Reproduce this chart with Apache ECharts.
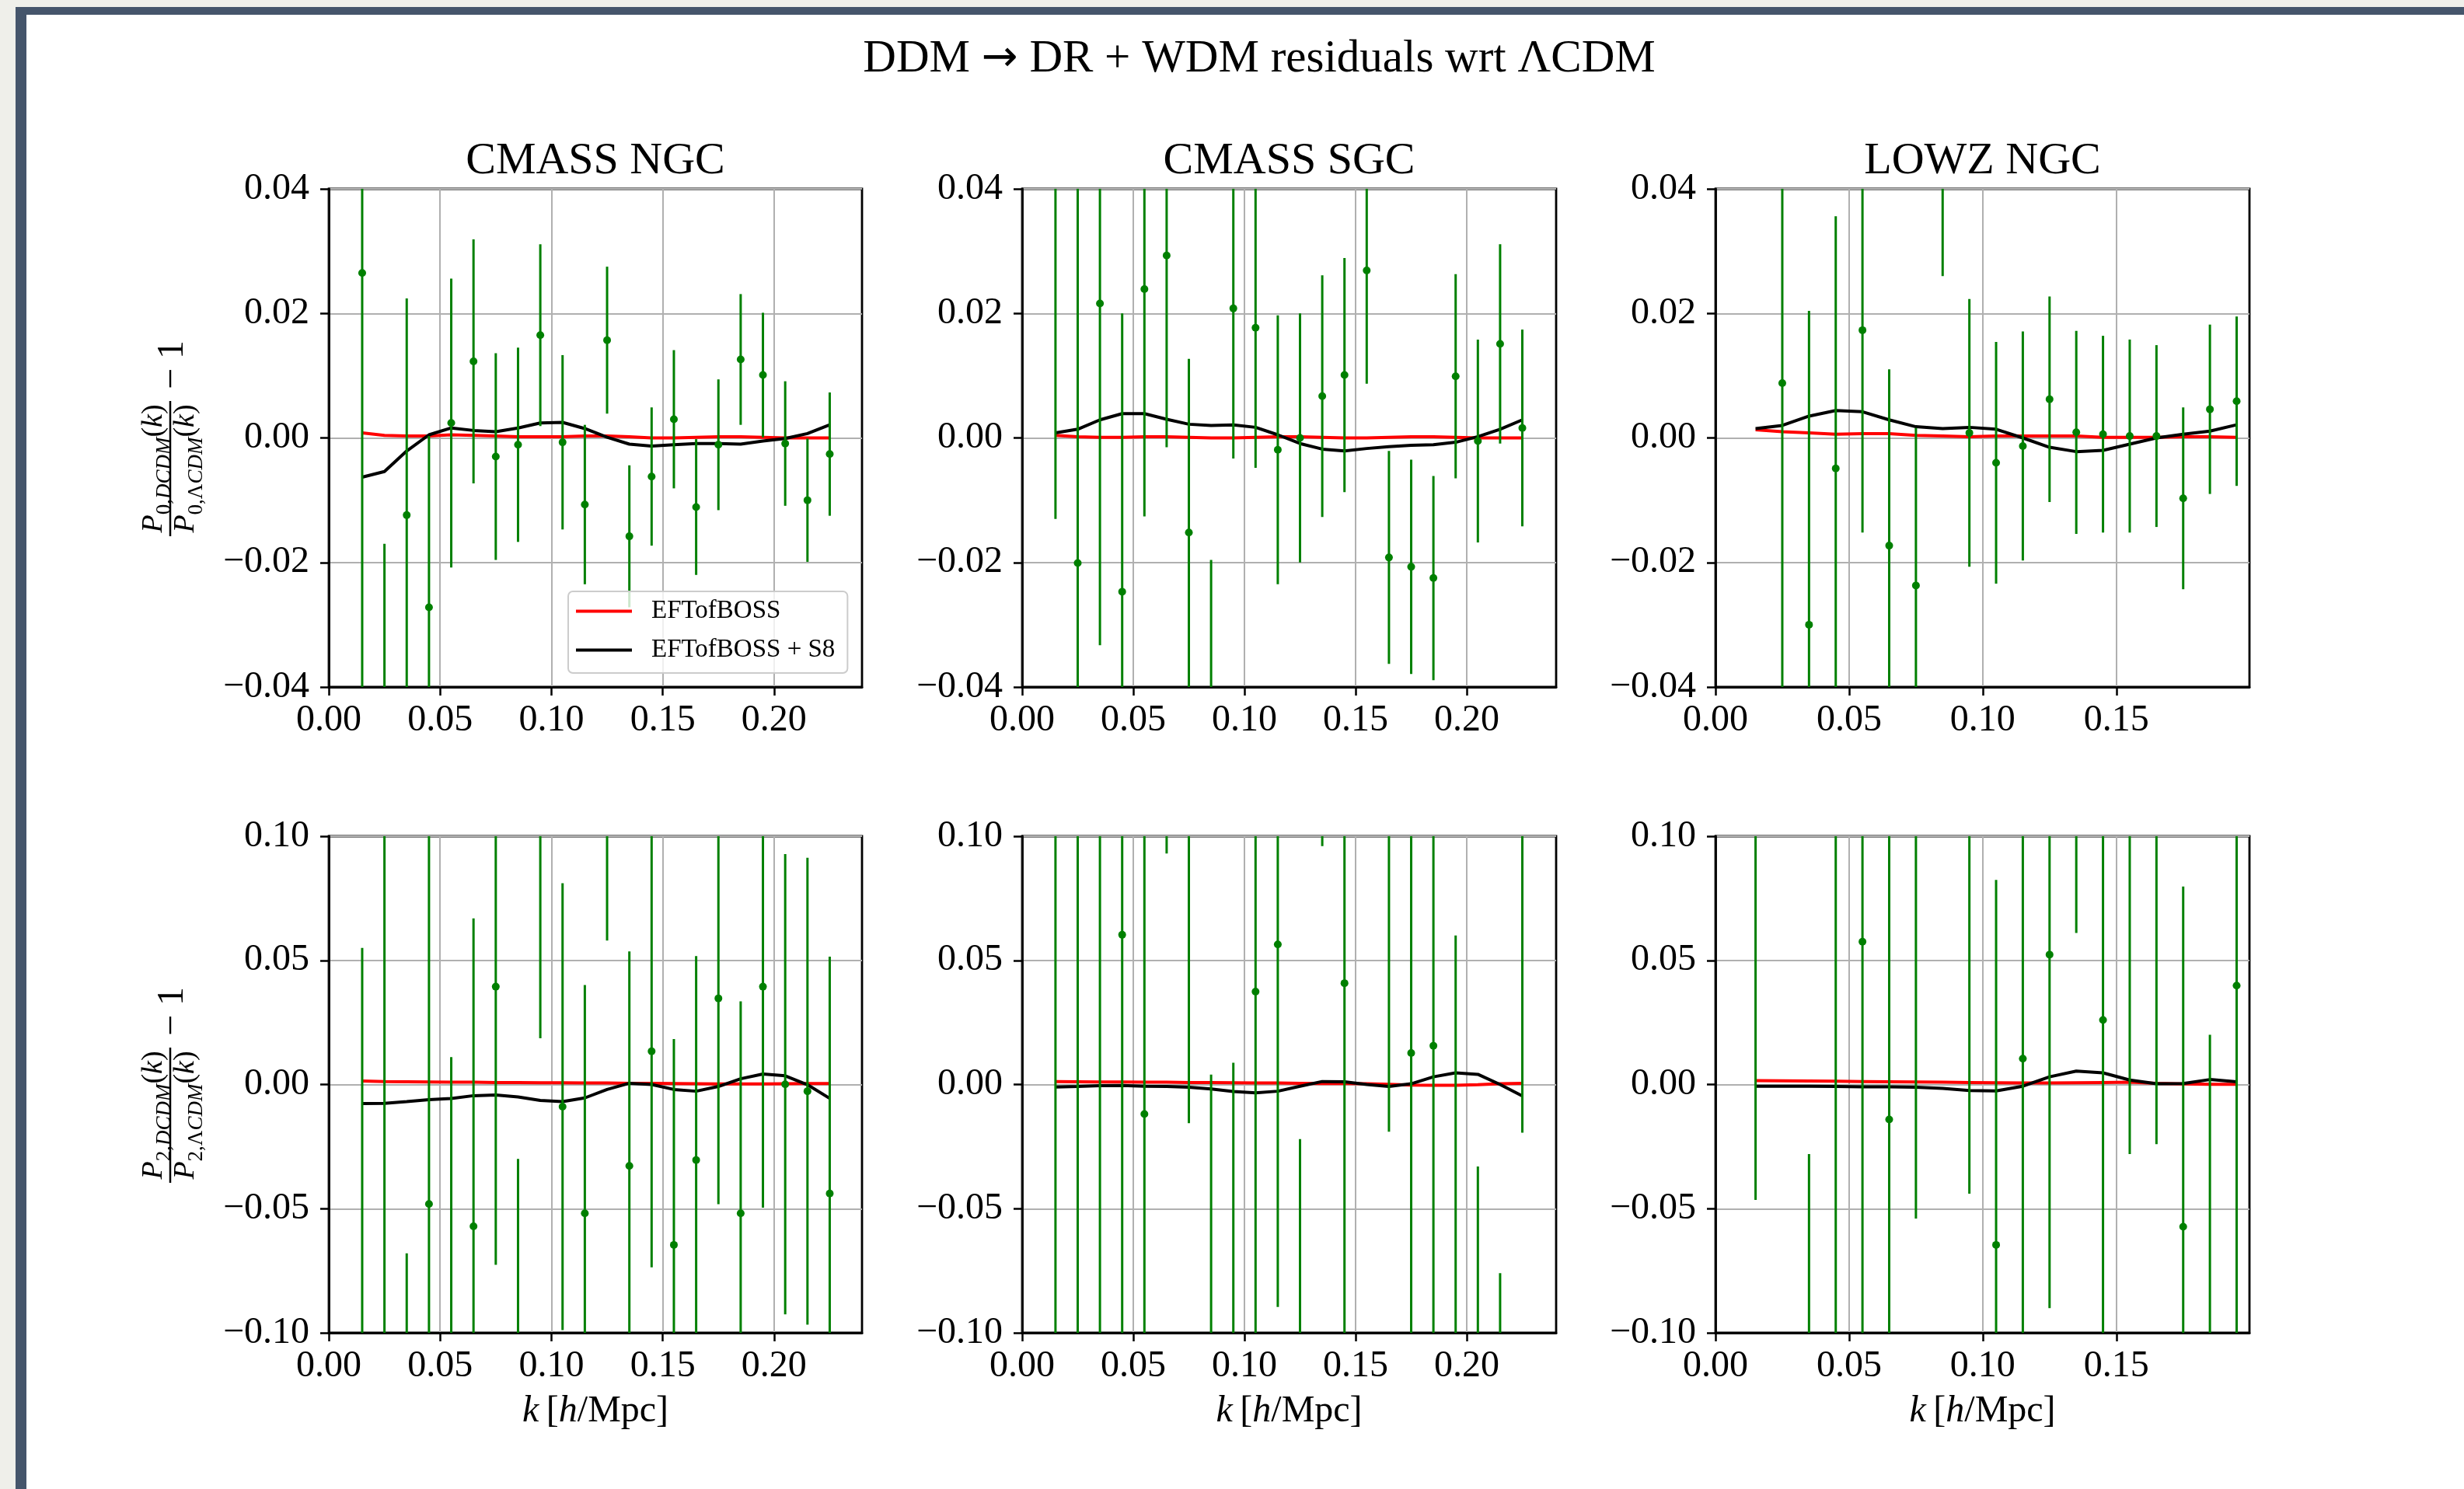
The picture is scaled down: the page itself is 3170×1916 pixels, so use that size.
<!DOCTYPE html>
<html>
<head>
<meta charset="utf-8">
<script src="https://cdn.jsdelivr.net/npm/echarts@6/dist/echarts.min.js"></script>
<style>
  html, body { margin: 0; padding: 0; background: #ffffff; }
  #chart { width: 3170px; height: 1916px; }
</style>
</head>
<body>
<div id="chart"></div>
<script>
// ---------- data ----------
// wavenumber bins [h/Mpc]
const kCmass = [0.015, 0.025, 0.035, 0.045, 0.055, 0.065, 0.075, 0.085, 0.095, 0.105, 0.115,
                0.125, 0.135, 0.145, 0.155, 0.165, 0.175, 0.185, 0.195, 0.205, 0.215, 0.225];
const kLowz  = [0.015, 0.025, 0.035, 0.045, 0.055, 0.065, 0.075, 0.085, 0.095, 0.105,
                0.115, 0.125, 0.135, 0.145, 0.155, 0.165, 0.175, 0.185, 0.195];

// monopole residuals, CMASS NGC
const cmassNgcP0     = [0.0265, -0.065, -0.0124, -0.0272, 0.0024, 0.0123, -0.0030, -0.0011, 0.0165, -0.0007, -0.0107,
                        0.0157, -0.0158, -0.0062, 0.0030, -0.0111, -0.0011, 0.0126, 0.0101, -0.0009, -0.0100, -0.0026];
const cmassNgcP0Err  = [0.075, 0.048, 0.0348, 0.0275, 0.0232, 0.0196, 0.0166, 0.0156, 0.0146, 0.0140, 0.0128,
                        0.0118, 0.0114, 0.0111, 0.0111, 0.0109, 0.0105, 0.0105, 0.0100, 0.0100, 0.0099, 0.0099];
const cmassNgcP0Fit   = [0.0008, 0.0004, 0.0003, 0.0003, 0.0005, 0.0004, 0.0003, 0.0002, 0.0002, 0.0002, 0.0003,
                         0.0003, 0.0002, 0.0000, 0.0000, 0.0001, 0.0002, 0.0002, 0.0001, 0.0000, 0.0000, 0.0000];
const cmassNgcP0FitS8 = [-0.0063, -0.0054, -0.0021, 0.0005, 0.0016, 0.0012, 0.0010, 0.0016, 0.0024, 0.0025, 0.0015,
                         0.0001, -0.0010, -0.0013, -0.0011, -0.0009, -0.0009, -0.0010, -0.0005, -0.0001, 0.0007, 0.0021];

// monopole residuals, CMASS SGC
const cmassSgcP0     = [0.045, -0.0201, 0.0216, -0.0247, 0.0239, 0.0293, -0.0152, -0.045, 0.0208, 0.0177, -0.0019,
                        0.0000, 0.0067, 0.0101, 0.0269, -0.0192, -0.0207, -0.0225, 0.0099, -0.0005, 0.0151, 0.0016];
const cmassSgcP0Err  = [0.058, 0.065, 0.0549, 0.0447, 0.0365, 0.0308, 0.0279, 0.0254, 0.0241, 0.0225, 0.0216,
                        0.0200, 0.0194, 0.0188, 0.0182, 0.0171, 0.0172, 0.0164, 0.0164, 0.0163, 0.0160, 0.0158];
const cmassSgcP0Fit   = [0.0004, 0.0002, 0.0001, 0.0001, 0.0002, 0.0002, 0.0001, 0.0000, 0.0000, 0.0001, 0.0002,
                         0.0002, 0.0001, 0.0000, 0.0000, 0.0001, 0.0002, 0.0002, 0.0001, 0.0000, 0.0000, 0.0000];
const cmassSgcP0FitS8 = [0.0008, 0.0014, 0.0029, 0.0039, 0.0039, 0.0030, 0.0022, 0.0020, 0.0021, 0.0017, 0.0005,
                         -0.0009, -0.0018, -0.0021, -0.0017, -0.0014, -0.0012, -0.0011, -0.0007, 0.0002, 0.0014, 0.0029];

// monopole residuals, LOWZ NGC
const lowzNgcP0     = [null, 0.0088, -0.0300, -0.0049, 0.0173, -0.0173, -0.0237, 0.0495, 0.0008, -0.0040,
                       -0.0013, 0.0062, 0.0009, 0.0006, 0.0003, 0.0003, -0.0097, 0.0046, 0.0059];
const lowzNgcP0Err  = [null, 0.052, 0.0504, 0.0405, 0.0325, 0.0283, 0.0253, 0.0235, 0.0215, 0.0194,
                       0.0184, 0.0165, 0.0163, 0.0158, 0.0155, 0.0146, 0.0146, 0.0136, 0.0136];
const lowzNgcP0Fit   = [0.0013, 0.0010, 0.0008, 0.0006, 0.0007, 0.0007, 0.0004, 0.0003, 0.0002, 0.0003,
                        0.0003, 0.0003, 0.0003, 0.0001, 0.0001, 0.0001, 0.0002, 0.0002, 0.0001];
const lowzNgcP0FitS8 = [0.0015, 0.0020, 0.0035, 0.0044, 0.0042, 0.0029, 0.0018, 0.0015, 0.0017, 0.0014,
                        0.0000, -0.0015, -0.0022, -0.0020, -0.0010, 0.0000, 0.0006, 0.0011, 0.0021];

// quadrupole residuals, CMASS NGC
const cmassNgcP2     = [-0.105, 0.12, -0.13, -0.0481, -0.12, -0.0571, 0.0394, -0.135, 0.115, -0.0089, -0.0519,
                        0.14, -0.0328, 0.0134, -0.0646, -0.0304, 0.0347, -0.0519, 0.0394, 0.0001, -0.0027, -0.0439];
const cmassNgcP2Err  = [0.16, 0.25, 0.062, 0.16, 0.131, 0.124, 0.112, 0.105, 0.0964, 0.090, 0.092,
                        0.082, 0.0864, 0.087, 0.0829, 0.0821, 0.0829, 0.0854, 0.089, 0.0927, 0.094, 0.0954];
const cmassNgcP2Fit   = [0.0014, 0.0012, 0.0011, 0.0010, 0.0009, 0.0009, 0.0008, 0.0008, 0.0007, 0.0007, 0.0006,
                         0.0006, 0.0005, 0.0005, 0.0004, 0.0003, 0.0002, 0.0002, 0.0002, 0.0003, 0.0004, 0.0004];
const cmassNgcP2FitS8 = [-0.0077, -0.0076, -0.0069, -0.0061, -0.0056, -0.0045, -0.0042, -0.0050, -0.0064, -0.0069, -0.0054,
                         -0.0020, 0.0005, 0.0000, -0.0020, -0.0027, -0.0008, 0.0023, 0.0042, 0.0035, -0.0001, -0.0056];

// quadrupole residuals, CMASS SGC
const cmassSgcP2     = [0.13, -0.12, 0.11, 0.0603, -0.0119, 0.20, 0.11, -0.11, -0.105, 0.0374, 0.0564,
                        -0.15, 0.22, 0.0408, null, 0.12, 0.0127, 0.0156, -0.11, -0.15, -0.19, 0.105];
const cmassSgcP2Err  = [0.30, 0.30, 0.25, 0.20, 0.15, 0.107, 0.1256, 0.114, 0.1138, 0.14, 0.146,
                        0.128, 0.124, 0.145, null, 0.139, 0.13, 0.13, 0.17, 0.117, 0.114, 0.1244];
const cmassSgcP2Fit   = [0.0012, 0.0011, 0.0010, 0.0010, 0.0009, 0.0009, 0.0008, 0.0008, 0.0007, 0.0006, 0.0006,
                         0.0005, 0.0004, 0.0004, 0.0003, 0.0001, -0.0002, -0.0003, -0.0003, -0.0001, 0.0003, 0.0005];
const cmassSgcP2FitS8 = [-0.0010, -0.0008, -0.0005, -0.0004, -0.0007, -0.0008, -0.0011, -0.0018, -0.0028, -0.0034, -0.0027,
                         -0.0007, 0.0012, 0.0011, 0.0000, -0.0008, 0.0003, 0.0031, 0.0047, 0.0041, 0.0000, -0.0046];

// quadrupole residuals, LOWZ NGC
const lowzNgcP2     = [0.11, null, -0.14, 0.12, 0.0575, -0.0141, 0.11, null, 0.105, -0.0646,
                       0.0104, 0.0523, 0.17, 0.026, 0.105, 0.105, -0.0573, -0.11, 0.0398];
const lowzNgcP2Err  = [0.1565, null, 0.112, 0.30, 0.17, 0.13, 0.164, null, 0.149, 0.147,
                       0.13, 0.1424, 0.109, 0.13, 0.133, 0.129, 0.137, 0.13, 0.14];
const lowzNgcP2Fit   = [0.0016, 0.0015, 0.0014, 0.0013, 0.0012, 0.0011, 0.0010, 0.0009, 0.0008, 0.0007,
                        0.0006, 0.0006, 0.0007, 0.0008, 0.0009, 0.0005, 0.0002, 0.0001, 0.0001];
const lowzNgcP2FitS8 = [-0.0007, -0.0007, -0.0007, -0.0008, -0.0009, -0.0009, -0.0011, -0.0016, -0.0024, -0.0026,
                        -0.0007, 0.0031, 0.0054, 0.0047, 0.0018, 0.0003, 0.0004, 0.0020, 0.0011];

// axis tick labels
const xTicksCmass = [0.00, 0.05, 0.10, 0.15, 0.20];
const xTicksLowz  = [0.00, 0.05, 0.10, 0.15];

const panelTitles = ['CMASS NGC', 'CMASS SGC', 'LOWZ NGC'];
const fitNames = ['EFTofBOSS', 'EFTofBOSS + S8'];
const mainTitleParts = ['DDM', '\u2192', 'DR + WDM residuals wrt \u039BCDM'];

// ---------- layout ----------
const SERIF = "'Liberation Serif', 'DejaVu Serif', serif";
const GREEN = '#008000';
const gridLeft = [423, 1315, 2207];
const gridWidth = [686, 687, 687];
const gridTop = [243, 1076];
const gridHeight = [641, 639];
const xMax = [0.2395, 0.2402, 0.1998];
const yRange = [
  { min: -0.04, max: 0.04, interval: 0.02 },
  { min: -0.10, max: 0.10, interval: 0.05 }
];

const panels = [
  { row: 0, col: 0, k: kCmass, obs: cmassNgcP0, err: cmassNgcP0Err, fit: cmassNgcP0Fit, fitS8: cmassNgcP0FitS8 },
  { row: 0, col: 1, k: kCmass, obs: cmassSgcP0, err: cmassSgcP0Err, fit: cmassSgcP0Fit, fitS8: cmassSgcP0FitS8 },
  { row: 0, col: 2, k: kLowz,  obs: lowzNgcP0,  err: lowzNgcP0Err,  fit: lowzNgcP0Fit,  fitS8: lowzNgcP0FitS8 },
  { row: 1, col: 0, k: kCmass, obs: cmassNgcP2, err: cmassNgcP2Err, fit: cmassNgcP2Fit, fitS8: cmassNgcP2FitS8 },
  { row: 1, col: 1, k: kCmass, obs: cmassSgcP2, err: cmassSgcP2Err, fit: cmassSgcP2Fit, fitS8: cmassSgcP2FitS8 },
  { row: 1, col: 2, k: kLowz,  obs: lowzNgcP2,  err: lowzNgcP2Err,  fit: lowzNgcP2Fit,  fitS8: lowzNgcP2FitS8 }
];

function fmt(v) {
  if (Math.abs(v) < 1e-9) return '0.00';
  return (v < 0 ? '\u2212' : '') + Math.abs(v).toFixed(2);
}

const grids = [], xAxes = [], yAxes = [], series = [];

panels.forEach((p, i) => {
  grids.push({
    left: gridLeft[p.col], top: gridTop[p.row], width: gridWidth[p.col], height: gridHeight[p.row],
    show: true, borderColor: '#000000', borderWidth: 2.8, backgroundColor: 'transparent', containLabel: false
  });
  const xt = p.col === 2 ? xTicksLowz : xTicksCmass;
  xAxes.push({
    type: 'value', gridIndex: i, min: 0, max: xMax[p.col], interval: 0.05,
    axisLine: { show: true, onZero: false, lineStyle: { color: '#000', width: 2.8 } },
    axisTick: { show: true, length: 11, lineStyle: { color: '#000', width: 2.5 }, customValues: xt },
    axisLabel: { show: true, customValues: xt, formatter: fmt, margin: 19, fontFamily: SERIF, fontSize: 48, color: '#000' },
    splitLine: { show: true, lineStyle: { color: '#b0b0b0', width: 2 } },
    name: p.row === 1 ? '{it|k}\u2009{rm|[}{it|h}{rm|/Mpc]}' : '',
    nameLocation: 'middle', nameGap: 77,
    nameTextStyle: {
      fontFamily: SERIF, fontSize: 48, color: '#000',
      rich: {
        it: { fontFamily: SERIF, fontSize: 48, fontStyle: 'italic', color: '#000' },
        rm: { fontFamily: SERIF, fontSize: 48, color: '#000' }
      }
    }
  });
  const yr = yRange[p.row];
  yAxes.push({
    type: 'value', gridIndex: i, min: yr.min, max: yr.max, interval: yr.interval,
    axisLine: { show: true, onZero: false, lineStyle: { color: '#000', width: 2.8 } },
    axisTick: { show: true, length: 11, lineStyle: { color: '#000', width: 2.5 } },
    axisLabel: { show: true, formatter: fmt, margin: 25, fontFamily: SERIF, fontSize: 48, color: '#000' },
    splitLine: { show: true, lineStyle: { color: '#b0b0b0', width: 2 } }
  });
  series.push({
    type: 'line', name: fitNames[0], xAxisIndex: i, yAxisIndex: i,
    data: p.k.map((k, j) => [k, p.fit[j]]),
    symbol: 'none', lineStyle: { color: '#ff0000', width: 4 }, itemStyle: { color: '#ff0000' },
    z: 2, silent: true, clip: true
  });
  series.push({
    type: 'line', name: fitNames[1], xAxisIndex: i, yAxisIndex: i,
    data: p.k.map((k, j) => [k, p.fitS8[j]]),
    symbol: 'none', lineStyle: { color: '#000000', width: 4 }, itemStyle: { color: '#000000' },
    z: 2, silent: true, clip: true
  });
  series.push({
    type: 'custom', name: 'BOSS data', xAxisIndex: i, yAxisIndex: i,
    dimensions: ['k', 'residual', 'error'],
    encode: { x: 0, y: 1 },
    data: p.k.map((k, j) => [k, p.obs[j], p.err[j]]).filter(d => d[1] !== null),
    clip: true, z: 3, silent: true,
    renderItem: function (params, api) {
      const k = api.value(0), v = api.value(1), e = api.value(2);
      const hi = api.coord([k, v + e]);
      const lo = api.coord([k, v - e]);
      const mid = api.coord([k, v]);
      return {
        type: 'group',
        children: [
          { type: 'line', shape: { x1: hi[0], y1: hi[1], x2: lo[0], y2: lo[1] },
            style: { stroke: GREEN, lineWidth: 3 } },
          { type: 'circle', shape: { cx: mid[0], cy: mid[1], r: 5 },
            style: { fill: GREEN } }
        ]
      };
    }
  });
});

// y-axis label: P_l,DCDM(k) / P_l,ΛCDM(k) − 1, drawn as a rotated fraction
function fractionLabel(cx, cy, ell) {
  const rich = {
    it:  { fontFamily: SERIF, fontStyle: 'italic', fontSize: 38, lineHeight: 40, verticalAlign: 'top', fill: '#000' },
    rm:  { fontFamily: SERIF, fontSize: 38, lineHeight: 40, verticalAlign: 'top', fill: '#000' },
    sit: { fontFamily: SERIF, fontStyle: 'italic', fontSize: 27, lineHeight: 27, padding: [19, 0, 0, 0], verticalAlign: 'top', fill: '#000' },
    srm: { fontFamily: SERIF, fontSize: 27, lineHeight: 27, padding: [19, 0, 0, 0], verticalAlign: 'top', fill: '#000' }
  };
  return {
    type: 'group', x: cx, y: cy, rotation: Math.PI / 2,
    children: [
      { type: 'line', shape: { x1: -87, y1: 0, x2: 87, y2: 0 }, style: { stroke: '#000', lineWidth: 2.5 } },
      { type: 'text', x: 0, y: 0.5,
        style: { text: '{it|P}{srm|' + ell + ',}{sit|DCDM}{rm|(}{it|k}{rm|)}', rich: rich,
                 align: 'center', verticalAlign: 'bottom' } },
      { type: 'text', x: 0, y: 1,
        style: { text: '{it|P}{srm|' + ell + ',\u039B}{sit|CDM}{rm|(}{it|k}{rm|)}', rich: rich,
                 align: 'center', verticalAlign: 'top' } },
      { type: 'text', x: 102, y: 3,
        style: { text: '\u2212 1', font: '48px ' + SERIF, fill: '#000', align: 'left', verticalAlign: 'middle' } }
    ]
  };
}

const graphics = [
  // window frame
  { type: 'rect', shape: { x: 0, y: 0, width: 3170, height: 9 }, style: { fill: '#efefea' }, silent: true },
  { type: 'rect', shape: { x: 0, y: 0, width: 20, height: 1916 }, style: { fill: '#efefea' }, silent: true },
  { type: 'rect', shape: { x: 20, y: 9, width: 3150, height: 10 }, style: { fill: '#45556b' }, silent: true },
  { type: 'rect', shape: { x: 20, y: 9, width: 14, height: 1907 }, style: { fill: '#45556b' }, silent: true },
  // figure title
  { type: 'text', x: 1620, y: 76,
    style: {
      text: '{rm|' + mainTitleParts[0] + ' }{ar|' + mainTitleParts[1] + '}{rm| ' + mainTitleParts[2] + '}',
      rich: {
        rm: { fontFamily: SERIF, fontSize: 59, fill: '#000' },
        ar: { fontFamily: "'DejaVu Sans', sans-serif", fontSize: 56, fill: '#000' }
      },
      align: 'center', verticalAlign: 'middle'
    } },
  fractionLabel(219, 603, 0),
  fractionLabel(219, 1435, 2)
];
panelTitles.forEach((t, c) => {
  graphics.push({ type: 'text', x: gridLeft[c] + gridWidth[c] / 2, y: 208,
    style: { text: t, font: '58px ' + SERIF, fill: '#000', align: 'center', verticalAlign: 'middle' } });
});

const chart = echarts.init(document.getElementById('chart'), null, { renderer: 'canvas' });
chart.setOption({
  animation: false,
  backgroundColor: '#ffffff',
  grid: grids,
  xAxis: xAxes,
  yAxis: yAxes,
  series: series,
  legend: {
    data: fitNames,
    orient: 'vertical', left: 731, top: 761,
    icon: 'rect', itemWidth: 72, itemHeight: 4, itemGap: 17,
    padding: [9, 16, 13, 10],
    backgroundColor: 'rgba(255,255,255,0.8)', borderColor: '#cccccc', borderWidth: 2, borderRadius: 6,
    textStyle: { fontFamily: SERIF, fontSize: 33, color: '#000', padding: [0, 0, 0, 20] },
    selectedMode: false, z: 10
  },
  graphic: graphics
});
</script>
</body>
</html>
